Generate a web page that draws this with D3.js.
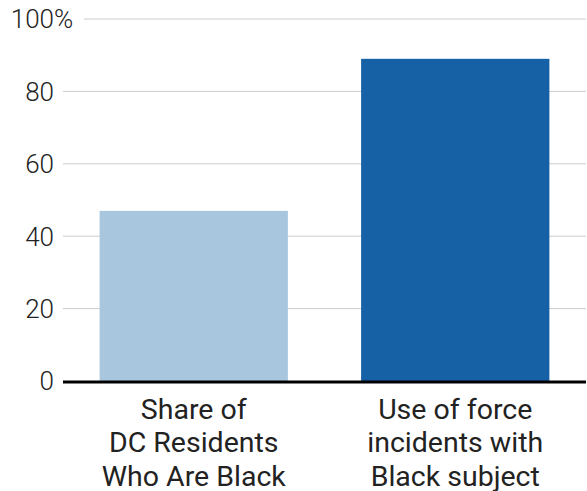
<!DOCTYPE html>
<html>
<head>
<meta charset="utf-8">
<script src="https://cdn.jsdelivr.net/npm/d3@7"></script>
<style>
  html, body { margin: 0; padding: 0; background: #fff; }
  svg { display: block; font-family: Roboto, "Noto Sans", sans-serif; }
</style>
</head>
<body>
<div id="chart"></div>
<script>
// Share of Black residents vs. share of use-of-force incidents (percent)
const categories = [
  ["Share of", "DC Residents", "Who Are Black"],
  ["Use of force", "incidents with", "Black subject"]
];
const values = [47, 89];
const barColors = ["#a9c6df", "#1660a6"];
const yTicks = [0, 20, 40, 60, 80, 100];

const width = 587, height = 491;
const margin = { top: 19, right: 1, bottom: 110, left: 63 };

const svg = d3.select("#chart").append("svg")
  .attr("width", width)
  .attr("height", height);

const keys = categories.map((c, i) => "c" + i);

const x = d3.scaleBand()
  .domain(keys)
  .range([margin.left, width - margin.right])
  .paddingInner(0.28)
  .paddingOuter(0.14);

const y = d3.scaleLinear()
  .domain([0, 100])
  .range([height - margin.bottom, margin.top]);

// horizontal gridlines
svg.append("g")
  .selectAll("line")
  .data(yTicks.filter(t => t !== 0))
  .join("line")
  .attr("x1", d => d === 100 ? 84 : margin.left)
  .attr("x2", width - margin.right)
  .attr("y1", d => y(d))
  .attr("y2", d => y(d))
  .attr("stroke", "#cccccc")
  .attr("stroke-width", 1);

// y tick labels
const tickG = svg.append("g")
  .attr("font-size", 26)
  .attr("font-weight", 300)
  .attr("fill", "#222");

tickG.selectAll("text.num")
  .data(yTicks)
  .join("text")
  .attr("class", "num")
  .attr("x", 54)
  .attr("y", d => y(d))
  .attr("dy", "0.36em")
  .attr("text-anchor", "end")
  .text(d => d);

tickG.append("text")
  .attr("x", 54)
  .attr("y", y(100))
  .attr("dy", "0.36em")
  .attr("text-anchor", "start")
  .text("%");

// bars
svg.append("g")
  .selectAll("rect")
  .data(values)
  .join("rect")
  .attr("x", (d, i) => x(keys[i]))
  .attr("width", x.bandwidth())
  .attr("y", d => y(d))
  .attr("height", d => y(0) - y(d))
  .attr("fill", (d, i) => barColors[i]);

// baseline
svg.append("line")
  .attr("x1", margin.left)
  .attr("x2", width - margin.right)
  .attr("y1", y(0) + 1)
  .attr("y2", y(0) + 1)
  .attr("stroke", "#000")
  .attr("stroke-width", 3);

// category labels
const labelG = svg.append("g")
  .attr("font-size", 28.5)
  .attr("fill", "#222")
  .attr("text-anchor", "middle");

categories.forEach((lines, i) => {
  const cx = x(keys[i]) + x.bandwidth() / 2;
  const t = labelG.append("text");
  lines.forEach((line, j) => {
    t.append("tspan")
      .attr("x", cx)
      .attr("y", 418.5 + j * 33.5)
      .text(line);
  });
});
</script>
</body>
</html>
